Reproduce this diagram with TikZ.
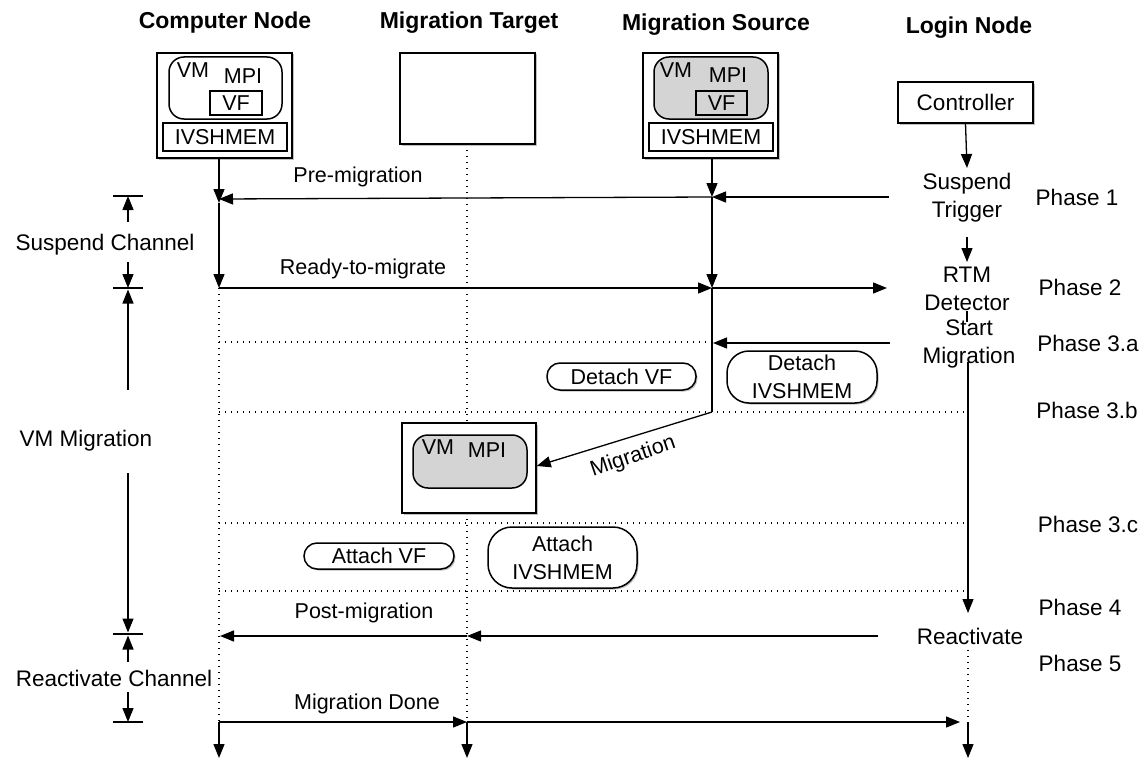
\documentclass[tikz,border=0pt]{standalone}
\usepackage{fontspec}
\setmainfont{Liberation Sans}
\usetikzlibrary{arrows.meta,shadows}
\begin{document}
\begin{tikzpicture}[x=1pt,y=-1pt,
  ln/.style={line width=1.3pt},
  arr/.style={line width=1.3pt,-{Triangle[length=14pt,width=11pt]}},
  dotline/.style={line width=1.3pt,dash pattern=on 1.3pt off 4.7pt},
  bx/.style={draw,line width=1.5pt,fill=white,inner sep=0pt},
  shd/.style={drop shadow={shadow xshift=1.5pt,shadow yshift=-1.5pt,fill=black,opacity=0.25}},
  vmbox/.style={bx,rounded corners=15pt},
  pill/.style={bx,shd,rounded corners=13pt,font=\fontsize{21.5}{28}\selectfont,align=center},
  txt/.style={inner sep=0pt,font=\fontsize{22.5}{28}\selectfont,align=center},
  stxt/.style={inner sep=0pt,font=\fontsize{21.5}{28}\selectfont,align=center},
  ttl/.style={inner sep=0pt,font=\bfseries\fontsize{23}{28}\selectfont}
]
\useasboundingbox (0,0) rectangle (1142,760);
\fill[white] (0,0) rectangle (1142,760);

% titles
\node[ttl] (t1) at (225,23) {Computer Node};
\node[ttl] (t2) at (469,23) {Migration Target};
\node[ttl] (t3) at (716,25) {Migration Source};
\node[ttl] (t4) at (969,28) {Login Node};

% coordinates
\coordinate (c0) at (219,158);
\coordinate (c1) at (219,199);
\coordinate (c1b) at (219,203);
\coordinate (c2) at (219,288);
\coordinate (c3) at (219,342);
\coordinate (c4) at (219,412);
\coordinate (c5) at (219,523);
\coordinate (c6) at (219,591);
\coordinate (c7) at (220,636);
\coordinate (c8) at (219,722);
\coordinate (c9) at (219,758);

\coordinate (tg0) at (467,144);
\coordinate (tg1) at (467,423);
\coordinate (tg2) at (467,513);
\coordinate (tg3) at (467,636);
\coordinate (tg4) at (467,722);
\coordinate (tg5) at (467,758);

\coordinate (s0) at (712,158);
\coordinate (s1) at (712,197);
\coordinate (s2) at (712,288);
\coordinate (s3) at (713,343);
\coordinate (s3b) at (712,342);
\coordinate (s4) at (712,412);

\coordinate (r1) at (889,197);
\coordinate (r2) at (887,288);
\coordinate (r3) at (890,343);
\coordinate (r4) at (878,636);
\coordinate (r5) at (960,722);

\coordinate (l1) at (968,362);
\coordinate (l2) at (968,613);
\coordinate (l3) at (968,650);
\coordinate (l4) at (968,722);
\coordinate (l5) at (968,758);
\coordinate (ld4) at (968,412);
\coordinate (ld5) at (968,523);
\coordinate (ld6) at (968,591);

% dotted lines
\draw[dotline] (c2) -- (c8);
\draw[dotline] (tg0) -- (tg1);
\draw[dotline] (tg2) -- (tg4);
\draw[dotline] (l3) -- (l4);
\draw[dotline] (c3) -- (s3b);
\draw[dotline] (c4) -- (ld4);
\draw[dotline] (c5) -- (ld5);
\draw[dotline] (c6) -- (ld6);

% computer node
\node[bx,shd,minimum width=135pt,minimum height=105pt] (cn) at (224.5,105.5) {};
\node[vmbox,minimum width=113pt,minimum height=62pt] (cnvm) at (225.5,88) {};
\node[stxt] (cnvmt) at (193,70) {VM};
\node[stxt] (cnmpi) at (243,76) {MPI};
\node[bx,stxt,draw,line width=1.5pt,minimum width=52pt,minimum height=24pt] (cnvf) at (236,103) {VF};
\node[bx,stxt,draw,line width=1.5pt,minimum width=124pt,minimum height=28pt] (cniv) at (225,137) {IVSHMEM};

% migration target
\node[bx,shd,minimum width=135pt,minimum height=91pt] (mt) at (467.5,98.5) {};

% migration source
\node[bx,shd,minimum width=135pt,minimum height=105pt] (ms) at (710.5,105.5) {};
\node[vmbox,fill=black!17,minimum width=114pt,minimum height=62pt] (msvm) at (711,88) {};
\node[stxt] (msvmt) at (676,70) {VM};
\node[stxt] (msmpi) at (728,75) {MPI};
\node[stxt,draw,line width=1.5pt,minimum width=51pt,minimum height=24pt] (msvf) at (721.5,103) {VF};
\node[bx,stxt,draw,line width=1.5pt,minimum width=124pt,minimum height=28pt] (msiv) at (711,137) {IVSHMEM};

% controller
\node[bx,shd,txt,draw,line width=1.5pt,minimum width=135pt,minimum height=41pt] (ctrl) at (965.5,102.5) {Controller};

% login texts
\node[txt] (susp) at (967,198) {Suspend\\Trigger};
\node[txt] (rtm) at (967,289) {RTM\\Detector};
\node[txt] (start) at (969,344) {Start\\Migration};
\node[txt] (react) at (970,636) {Reactivate};

% target VM box
\node[bx,shd,minimum width=134pt,minimum height=90pt] (tvm) at (469,468) {};
\node[vmbox,fill=black!17,minimum width=114pt,minimum height=53pt] (tvmin) at (470,461.5) {};
\node[stxt] (tvmt) at (438,447) {VM};
\node[stxt] (tmpi) at (487,450) {MPI};

% pills
\node[pill,minimum width=149pt,minimum height=27pt] (dvf) at (621.5,376.5) {Detach VF};
\node[pill,rounded corners=22pt,minimum width=150pt,minimum height=52pt] (div) at (802,377) {Detach\\IVSHMEM};
\node[pill,minimum width=150pt,minimum height=26pt] (avf) at (379,556) {Attach VF};
\node[pill,rounded corners=24pt,minimum width=149pt,minimum height=61pt] (aiv) at (562.5,557.5) {Attach\\IVSHMEM};

% arrows
\draw[arr] (c0) -- (c1b);
\draw[arr] (s0) -- (s1);
\draw[arr] (r1) -- (s1);
\draw[arr] (s1) -- (c1);
\draw[arr] (c1b) -- (c2);
\draw[arr] (s1) -- (s2);
\draw[arr] (c2) -- (s2);
\draw[arr] (s2) -- (r2);
\draw[arr] (r3) -- (s3);
\draw[ln] (s2) -- (s4);
\draw[arr] (s4) -- (tvm.east |- 0,466);
\node[stxt,rotate=19] (miglbl) at (633,457) {Migration};
\draw[arr] (l1) -- (l2);
\draw[arr] (r4) -- (tg3);
\draw[arr] (tg3) -- (c7);
\draw[arr] (c8) -- (tg4);
\draw[arr] (tg4) -- (r5);
\draw[arr] (c8) -- (c9);
\draw[arr] (tg4) -- (tg5);
\draw[arr] (l4) -- (l5);
\draw[arr] (ctrl.south) -- (967,168) coordinate (cA);
\coordinate (cB) at (967,237);
\coordinate (cC) at (967,262);
\draw[arr] (cB) -- (cC);
\coordinate (cD) at (967,311);
\coordinate (cE) at (967,322);
\draw[ln] (cD) -- (cE);

% arrow labels
\node[stxt] (pre) at (358,177) {Pre-migration};
\node[stxt] (ready) at (363,269) {Ready-to-migrate};
\node[stxt] (post) at (364,613) {Post-migration};
\node[stxt] (done) at (367,704) {Migration Done};

% phases
\node[txt] (p1) at (1077,197) {Phase 1};
\node[txt] (p2) at (1080,287) {Phase 2};
\node[txt] (p3a) at (1088,343) {Phase 3.a};
\node[txt] (p3b) at (1087,410) {Phase 3.b};
\node[txt] (p3c) at (1088,524) {Phase 3.c};
\node[txt] (p4) at (1080,607) {Phase 4};
\node[txt] (p5) at (1080,663) {Phase 5};

% left brackets
\coordinate (k1a) at (113,196); \coordinate (k1b) at (143,196);
\coordinate (k2a) at (113,288); \coordinate (k2b) at (143,288);
\coordinate (k3a) at (113,634); \coordinate (k3b) at (143,634);
\coordinate (k4a) at (113,722); \coordinate (k4b) at (143,722);
\draw[ln] (k1a) -- (k1b);
\draw[ln] (k2a) -- (k2b);
\draw[ln] (k3a) -- (k3b);
\draw[ln] (k4a) -- (k4b);
\node[txt] (sch) at (105,245) {Suspend Channel};
\node[txt] (vmm) at (86,441) {VM Migration};
\node[txt] (rch) at (114,678) {Reactivate Channel};
\coordinate (b1) at (128,196); \coordinate (b2) at (128,288);
\coordinate (b3) at (128,634); \coordinate (b4) at (128,722);
\draw[arr] (128,222) coordinate (a1) -- (b1);
\draw[arr] (128,262) coordinate (a2) -- (b2);
\draw[arr] (128,390) coordinate (a3) -- (128,289.5) coordinate (a3e);
\draw[arr] (128,473) coordinate (a4) -- (128,632.5) coordinate (a4e);
\draw[arr] (128,662) coordinate (a5) -- (128,635.5) coordinate (a5e);
\draw[arr] (128,692) coordinate (a6) -- (b4);
\end{tikzpicture}
\end{document}
